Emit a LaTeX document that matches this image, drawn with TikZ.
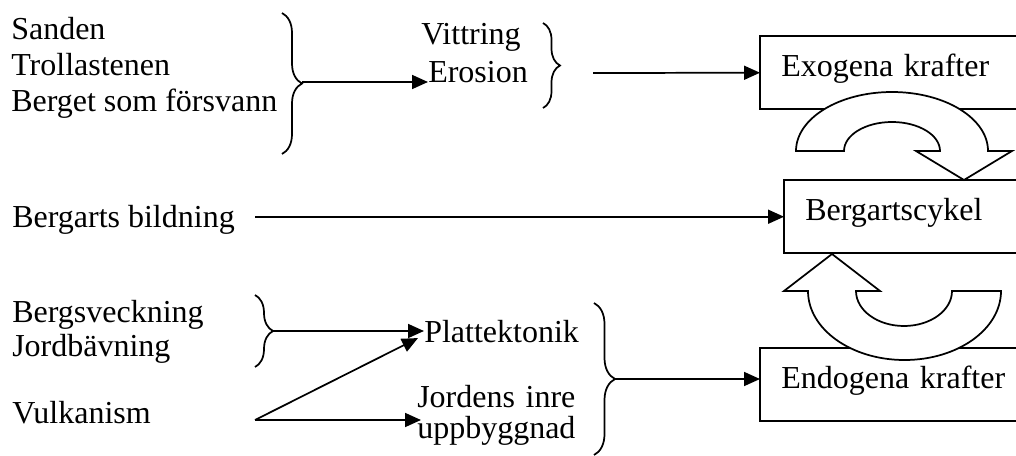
\documentclass[tikz,border=0pt]{standalone}
\usepackage{fontspec}
\setmainfont{Liberation Serif}
\usetikzlibrary{arrows.meta,decorations.pathreplacing}
\newlength\jiw
\begin{document}
\begin{tikzpicture}[x=0.75pt,y=-0.75pt,
  txt/.style={anchor=base west,inner sep=0pt,font=\fontsize{24}{27.4}\selectfont},
  box/.style={anchor=south west,inner xsep=15.75pt,inner ysep=0pt,
    text width=200pt,align=left,text height=30pt,text depth=24pt,font=\fontsize{24}{27.4}\selectfont},
  boxline/.style={line width=1.5pt,line join=miter},
  arr/.style={line width=1.3pt,-{Triangle[length=12pt,width=10.5pt]}},
  brc/.style={line width=1.3pt,decorate,decoration={brace,amplitude=#1}},
  cyc/.style={draw,line width=1.3pt,fill=white,line join=miter}]
\useasboundingbox (0,0) rectangle (1016,456);
\coordinate (edge) at (1016,0);

% texts
\node[txt] (san) at (11,40) {Sanden};
\node[txt] (tro) at (11,76) {Trollastenen};
\node[txt] (ber) at (11,112) {Berget som försvann};
\node[txt] (vit) at (421,45) {Vittring};
\node[txt] (ero) at (428,83) {Erosion};
\node[txt] (bb) at (12,227) {Bergarts bildning};
\node[txt] (bv) at (12,322) {Bergsveckning};
\node[txt] (jb) at (12,356) {Jordbävning};
\node[txt] (vu) at (12,423) {Vulkanism};
\node[txt] (pt) at (424,342) {Plattektonik};
\node[txt] (ji) at (417,407) {\settowidth{\jiw}{uppbyggnad}\makebox[\jiw][s]{Jordens inre}};
\node[txt] (ub) at (417,438) {uppbyggnad};

% boxes (right side runs off the page)
\node[box] (exo) at (760,109) {Exogena krafter};
\node[box] (cyk) at (784,253) {Bergartscykel};
\node[box] (endo) at (760,421) {Endogena krafter};
\draw[boxline] (exo.north west -| edge) -- (exo.north west) -- (exo.south west) -- (exo.south west -| edge);
\draw[boxline] (cyk.north west -| edge) -- (cyk.north west) -- (cyk.south west) -- (cyk.south west -| edge);
\draw[boxline] (endo.north west -| edge) -- (endo.north west) -- (endo.south west) -- (endo.south west -| edge);

% braces
\draw[brc=15pt] (282,13) -- (282,154);
\coordinate (b1) at (302,82);
\draw[brc=12.75pt] (543,23) -- (543,108);
\coordinate (b2) at (593,73);
\draw[brc=13.5pt] (255,295) -- (255,367);
\coordinate (b3) at (273,331);
\draw[brc=15.75pt] (594,303) -- (594,455);
\coordinate (b4) at (615,379);
\coordinate (vs) at (255,420);

% arrows
\draw[arr] (b1) -- (b1 -| ero.west);
\draw[arr] (b2) -- (exo.west);
\draw[arr] ([xshift=15pt]bb.east |- cyk.west) -- (cyk.west);
\draw[arr] (b3) -- (b3 -| pt.west);
\draw[arr] (vs) -- ([shift={(-6,7)}]pt.west);
\draw[arr] (vs) -- ([xshift=3pt]vs -| ub.west);
\draw[arr] (b4) -- (b4 -| endo.west);

% cycle arrows
\path[cyc] (796,151) arc[start angle=180,end angle=360,x radius=96,y radius=59]
  -- (1012,151) -- (964,180) -- (916,151) -- (940,151)
  arc[start angle=0,end angle=-180,x radius=48,y radius=29] -- cycle;
\path[cyc] (856,291) -- (880,291) -- (832,254) -- (784,291) -- (808,291)
  arc[start angle=180,end angle=0,x radius=96.5,y radius=69] -- (952,291)
  arc[start angle=0,end angle=180,x radius=48,y radius=35] -- cycle;
\end{tikzpicture}
\end{document}
